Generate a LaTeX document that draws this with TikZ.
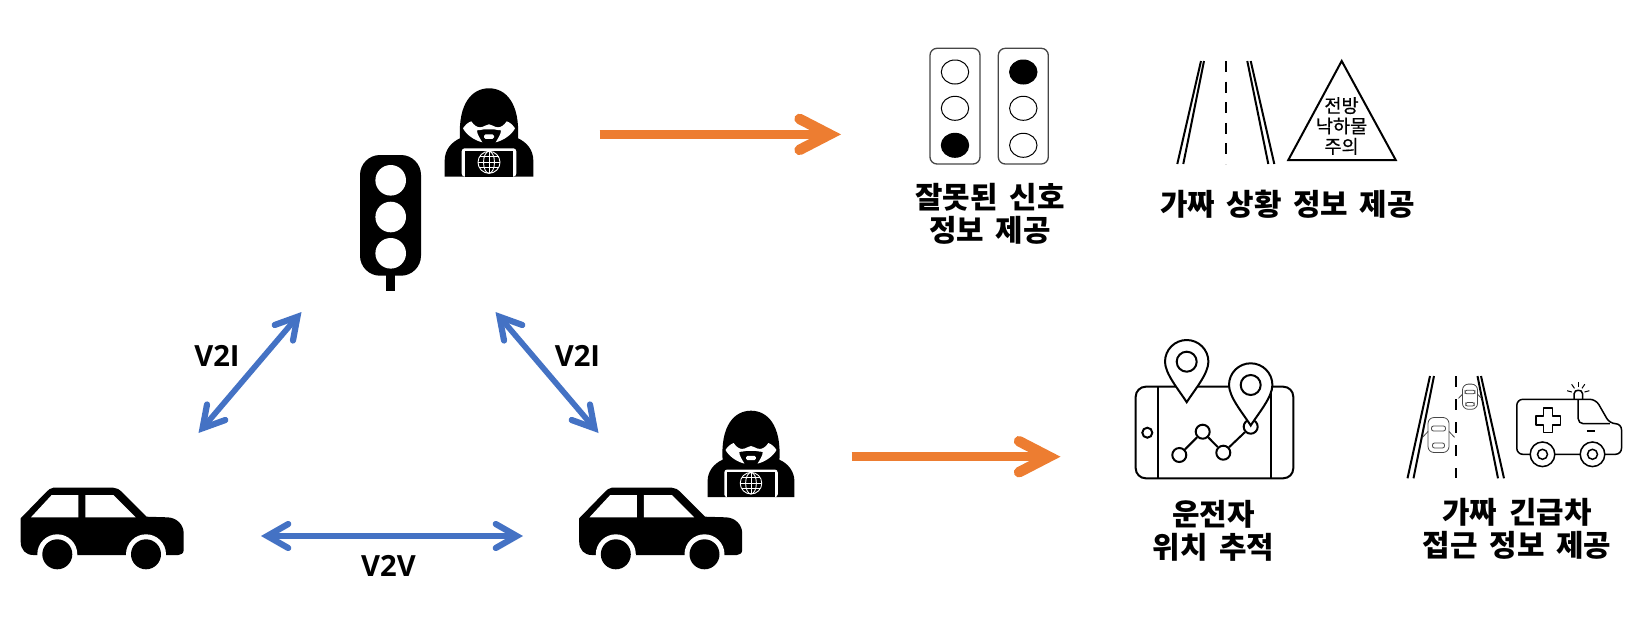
\documentclass[tikz,border=0pt]{standalone}
\usepackage{fontspec}
\setmainfont{Noto Sans CJK KR}[WordSpace=1.7]
\newfontfamily\latinlabel{Open Sans}
\newfontfamily\signfont{Noto Sans CJK KR}[FakeBold=0.5]
\usepackage{xcolor}
\usepackage{tikz}
\usetikzlibrary{arrows.meta,calc}
\definecolor{linkblue}{RGB}{68,114,196}
\definecolor{attackorange}{RGB}{237,125,49}
\definecolor{framegray}{RGB}{70,70,70}
\definecolor{minicargray}{RGB}{70,70,70}
\tikzset{
  link-arrow/.style={{Straight Barb[length=2.1mm,width=2.4mm,line width=0.62mm,line cap=round,line join=miter]}-{Straight Barb[length=2.1mm,width=2.4mm,line width=0.62mm,line cap=round,line join=miter]}, line width=0.57mm, draw=linkblue},
  attack-arrow/.style={-{Straight Barb[length=3mm,width=3.1mm,line width=1.05mm,line cap=round,line join=miter]}, line width=0.95mm, draw=attackorange},
  link-label/.style={font=\latinlabel\fontsize{8.3}{9.5}\bfseries\selectfont, inner sep=0pt},
  caption-label/.style={font=\fontsize{8.5}{9.3}\bfseries\selectfont, align=center, inner sep=0pt},
  sign-label/.style={font=\signfont\fontsize{5.3}{5.8}\selectfont, align=center, inner sep=0pt},
  icon-line/.style={draw=black, line width=0.2mm},
  road-edge/.style={draw=black, line width=0.2mm},
  chart-dot/.style={circle, draw=black, line width=0.2mm, minimum size=1.4mm, inner sep=0pt},
  car-icon/.pic={
    \fill[black] (0,30.6) -- (24.3,5.6) .. controls (28,2) and (30,0) .. (32.6,0) -- (92.6,0)
      .. controls (96,0) and (99,2) .. (101,4) -- (126,29) -- (146,29.6)
      .. controls (156,29.6) and (163,37) .. (163,45.6) -- (163,62.3)
      .. controls (163,65.5) and (160.5,67.3) .. (157.6,67.3) -- (12.6,67.3)
      .. controls (5,67.3) and (0,62) .. (0,54) -- cycle;
    \fill[white] (10.3,29.6) -- (31,7.3) -- (57.6,7.3) -- (57.6,29.6) -- cycle;
    \fill[white] (64.6,7.3) -- (92.6,7.3) -- (115,29.6) -- (64.6,29.6) -- cycle;
    \foreach \wx in {36.6,125.3}{
      \fill[white] (\wx,66.6) circle (20);
      \fill[black] (\wx,66.6) circle (15);
    }
  },
  hacker-icon/.pic={
    \fill[black] (-44.3,88.3) -- (-44.3,72) .. controls (-44.3,62) and (-38,54) .. (-29,50)
      .. controls (-31,15) and (-17,0) .. (0,0) .. controls (17,0) and (31,15) .. (29,50)
      .. controls (38,54) and (44.3,62) .. (44.3,72) -- (44.3,88.3) -- cycle;
    \fill[white] (-26,40) .. controls (-24,37) and (-21,34) .. (-17.7,33) .. controls (-15,37) and (-12,39) .. (-9,39)
      .. controls (-5,39) and (-3,36) .. (0,36) .. controls (3,36) and (5,39) .. (9,39)
      .. controls (12,39) and (15,37) .. (17.7,33) .. controls (21,34) and (24,37) .. (26,40)
      .. controls (23,46) and (15,52) .. (6.7,54) .. controls (9,50) and (12,46) .. (12,42)
      .. controls (7,42) and (4,40) .. (0,41) .. controls (-4,40) and (-7,42) .. (-12,42)
      .. controls (-12,46) and (-9,50) .. (-6.7,54) .. controls (-15,52) and (-23,46) .. (-26,40) -- cycle;
    \fill[white, rounded corners=0.15mm] (-5,46) rectangle (5,50.5);
    \fill[white, rounded corners=0.3mm] (-27.3,88.3) -- (-27.3,60) -- (27.3,60) -- (27.3,88.3) -- cycle;
    \fill[black] (-24,63) rectangle (24,88.3);
    \begin{scope}[draw=white, line width=0.09mm]
      \draw (0,74) circle (11);
      \draw (0,74) ellipse [x radius=5.5, y radius=11];
      \draw (0,63) -- (0,85);
      \draw (-11,74) -- (11,74);
      \draw (-9.5,68.5) -- (9.5,68.5);
      \draw (-9.5,79.5) -- (9.5,79.5);
    \end{scope}
  },
  signal-box/.pic={
    \draw[draw=framegray, line width=0.13mm, rounded corners=0.7mm] (0,0) rectangle (50,115.7);
    \foreach \ly in {23.7,60,97}
      \draw[draw=black, line width=0.1mm] (25,\ly) ellipse [x radius=13.7, y radius=12];
  },
  map-pin/.pic={
    \draw[icon-line, fill=white] (0,40.5) .. controls (-8,28) and (-21.7,12) .. (-21.7,0)
      .. controls (-21.7,-12) and (-12,-21.7) .. (0,-21.7) .. controls (12,-21.7) and (21.7,-12) .. (21.7,0)
      .. controls (21.7,12) and (8,28) .. (0,40.5) -- cycle;
    \draw[icon-line] (0,0) circle (10);
  },
  mini-car/.pic={
    \draw[draw=minicargray, line width=0.08mm, fill=white, rounded corners=0.6mm] (-10.5,-17.5) rectangle (10.5,17.5);
    \draw[draw=minicargray, line width=0.08mm, fill=white, rounded corners=0.2mm] (-7,-9) rectangle (7,-4);
    \draw[draw=minicargray, line width=0.08mm, fill=white, rounded corners=0.2mm] (-6,8) rectangle (6,13);
    \draw[draw=minicargray, line width=0.08mm] (-10.5,-3.5) -- (-16,2.3);
    \draw[draw=minicargray, line width=0.08mm] (10.5,-3.5) -- (16,2.3);
  }
}
\begin{document}
\begin{tikzpicture}[x=0.1mm,y=-0.1mm]
\useasboundingbox (0,0) rectangle (1646,637);
% left side
\pic at (20.7,487.7) {car-icon};
\pic at (579.2,487.7) {car-icon};
\fill[black, rounded corners=2mm] (360,155) rectangle (421,275.7);
\fill[black] (386,270) rectangle (395,290.7);
\foreach \ly in {180.3,217,253.3}
  \fill[white] (390.7,\ly) circle (15.3);
\pic at (489,88.3) {hacker-icon};
\pic[scale=0.98] at (751,410.7) {hacker-icon};
\coordinate (v2i-left-car) at (198.5,433);
\coordinate (v2i-left-light) at (301.5,312);
\coordinate (v2i-right-light) at (495.5,312);
\coordinate (v2i-right-car) at (598.5,433);
\coordinate (v2v-left) at (261,536);
\coordinate (v2v-right) at (523,536);
\coordinate (attack-light-start) at (599.5,134.4);
\coordinate (attack-light-end) at (841,134.4);
\coordinate (attack-car-start) at (851.5,456.7);
\coordinate (attack-car-end) at (1060.5,456.7);
\draw[link-arrow] (v2i-left-car) -- (v2i-left-light);
\draw[link-arrow] (v2i-right-light) -- (v2i-right-car);
\draw[link-arrow] (v2v-left) -- (v2v-right);
\draw[attack-arrow] (attack-light-start) -- (attack-light-end);
\draw[attack-arrow] (attack-car-start) -- (attack-car-end);
\node[link-label] (v2i-left-text) at (217,356) {V2I};
\node[link-label] (v2i-right-text) at (577.5,356) {V2I};
\node[link-label] (v2v-text) at (388.5,566) {V2V};
% signals
\pic at (930,48.3) {signal-box};
\pic at (998.3,48.3) {signal-box};
\fill[black] (955,145.3) ellipse [x radius=13.7, y radius=12];
\fill[black] (1023.3,72) ellipse [x radius=13.7, y radius=12];
\node[caption-label] (wrong-signal) at (990,214) {잘못된 신호\\정보 제공};
% fake road sign
\draw[road-edge] (1201,61) -- (1177.3,164);
\draw[road-edge] (1204,61) -- (1183.3,164);
\draw[road-edge] (1247.3,61) -- (1268.3,164);
\draw[road-edge] (1250.7,61) -- (1274.3,164);
\draw[draw=black, line width=0.2mm, dash pattern=on 1.1mm off 0.96mm] (1225.7,61) -- (1225.7,164);
\draw[draw=black, line width=0.2mm, line join=miter] (1341.7,61) -- (1395.7,160) -- (1288.3,160) -- cycle;
\node[sign-label] (sign-text) at (1341.5,126) {전방\\낙하물\\주의};
\node[caption-label] (fake-situation) at (1287.5,204.5) {가짜 상황 정보 제공};
% phone map
\draw[icon-line, rounded corners=1mm] (1135.7,386.7) rectangle (1293.3,478.3);
\draw[icon-line] (1158.3,386.7) -- (1158.3,478.3);
\draw[icon-line] (1270.7,386.7) -- (1270.7,478.3);
\draw[icon-line] (1147.3,432.7) circle (5);
\node[chart-dot] (chart-a) at (1179.3,455) {};
\node[chart-dot] (chart-b) at (1202.7,431.7) {};
\node[chart-dot] (chart-c) at (1223.3,452.7) {};
\node[chart-dot] (chart-d) at (1250.7,426.7) {};
\draw[icon-line] (chart-a) -- (chart-b);
\draw[icon-line] (chart-b) -- (chart-c);
\draw[icon-line] (chart-c) -- (chart-d);
\pic at (1186.7,361.7) {map-pin};
\pic at (1250.7,385) {map-pin};
\node[caption-label] (driver-track) at (1213.5,531) {운전자\\위치 추적};
% fake ambulance
\draw[road-edge] (1430,376) -- (1407.5,478.3);
\draw[road-edge] (1434,376) -- (1413.5,478.3);
\draw[road-edge] (1477.5,376) -- (1498,478.3);
\draw[road-edge] (1481,376) -- (1504,478.3);
\draw[draw=black, line width=0.2mm, dash pattern=on 1.1mm off 1.2mm] (1455.5,376) -- (1455.5,478.3);
\pic at (1438.5,435) {mini-car};
\pic[scale=0.72] at (1470,396.7) {mini-car};
\begin{scope}[shift={(2.5,1)}]
\draw[icon-line, line width=0.15mm, fill=white] (1571.7,398.3) -- (1571.7,392.5) .. controls (1571.7,390) and (1574,389.3) .. (1575.7,389.3) .. controls (1577.5,389.3) and (1580,390) .. (1580,392.5) -- (1580,398.3);
\foreach \ra in {-165,-125,-90,-55,-15}
  \draw[draw=black, line width=0.1mm] ($(1575.7,392.7)+(\ra:6.5)$) -- ($(1575.7,392.7)+(\ra:11.5)$);
\draw[icon-line, line width=0.15mm, rounded corners=0.6mm] (1514.3,398.3) -- (1593.3,398.3) -- (1607.3,422.7) -- (1619,422.7) -- (1619,453.3) -- (1514.3,453.3) -- cycle;
\draw[icon-line, line width=0.15mm, rounded corners=0.5mm] (1575.7,398.3) -- (1575.7,422.7) -- (1607.3,422.7);
\draw[icon-line, line width=0.12mm] (1584.3,430) -- (1592.7,430);
\draw[icon-line, line width=0.15mm, line join=round] (1541.2,407) -- (1550.2,407) -- (1550.2,414.8) -- (1558,414.8) -- (1558,423.8) -- (1550.2,423.8) -- (1550.2,431.6) -- (1541.2,431.6) -- (1541.2,423.8) -- (1533.4,423.8) -- (1533.4,414.8) -- (1541.2,414.8) -- cycle;
\foreach \wx in {1540,1590}{
  \draw[icon-line, line width=0.15mm, fill=white] (\wx,453.3) circle (12.3);
  \draw[icon-line, line width=0.15mm] (\wx,453.3) circle (5);
}
\end{scope}
\node[caption-label] (fake-ambulance) at (1517,529) {가짜 긴급차\\접근 정보 제공};
\end{tikzpicture}
\end{document}
